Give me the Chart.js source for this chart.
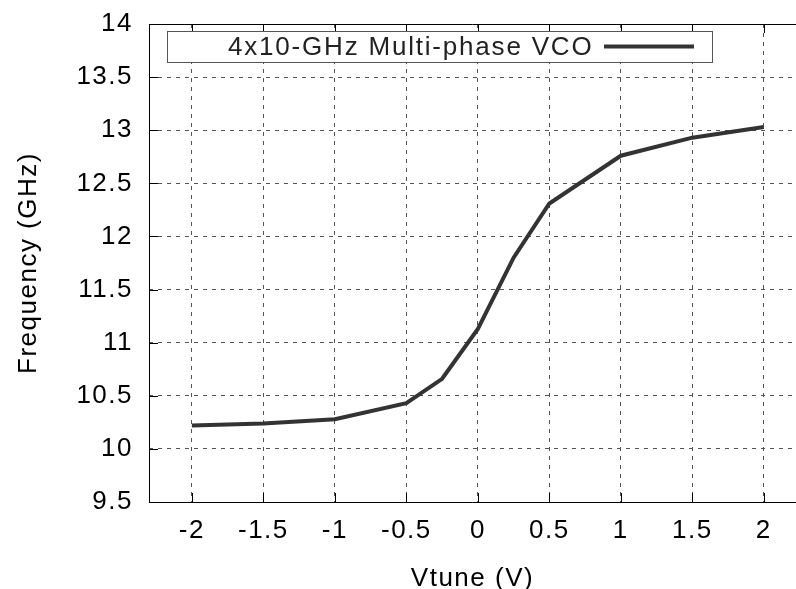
<!DOCTYPE html>
<html>
<head>
<meta charset="utf-8">
<script src="https://cdn.jsdelivr.net/npm/chart.js@4.4.0/dist/chart.umd.min.js"></script>
<style>
  html, body { margin: 0; padding: 0; background: #fff; overflow: hidden; }
  #wrap { width: 796px; height: 589px; }
</style>
</head>
<body>
<div id="wrap"><canvas id="vcoChart" width="796" height="589"></canvas></div>
<script>
// Data
const seriesLabel = "4x10-GHz Multi-phase VCO";
const vtune = [-2, -1.5, -1, -0.5, -0.25, 0, 0.25, 0.5, 1, 1.5, 2];
const freq = [10.22, 10.24, 10.28, 10.43, 10.66, 11.13, 11.8, 12.31, 12.76, 12.93, 13.03];
const xTicks = [-2, -1.5, -1, -0.5, 0, 0.5, 1, 1.5, 2];
const yTicks = [9.5, 10, 10.5, 11, 11.5, 12, 12.5, 13, 13.5, 14];

const FONT = "'Liberation Sans', Arial, sans-serif";
const gridColor = "#555";

// slightly wider text, like the reference
const spacingPlugin = {
    id: "spacing",
    beforeUpdate(chart) { chart.ctx.letterSpacing = "1.5px"; },
    beforeDraw(chart) { chart.ctx.letterSpacing = "1.5px"; }
};

// frame, inward ticks and boxed legend, gnuplot style
const framePlugin = {
    id: "frame",
    afterDraw(chart) {
        const { ctx, chartArea: a, scales } = chart;
        ctx.save();
        ctx.strokeStyle = "#000";
        ctx.lineWidth = 1;
        ctx.setLineDash([]);
        ctx.beginPath();
        ctx.moveTo(a.left + 0.5, a.top + 0.5);
        ctx.lineTo(a.right, a.top + 0.5);
        ctx.moveTo(a.left + 0.5, a.top);
        ctx.lineTo(a.left + 0.5, a.bottom + 0.5);
        ctx.lineTo(a.right, a.bottom + 0.5);
        xTicks.forEach(v => {
            const px = Math.round(scales.x.getPixelForValue(v)) + 0.5;
            ctx.moveTo(px, a.bottom); ctx.lineTo(px, a.bottom - 9);
            ctx.moveTo(px, a.top); ctx.lineTo(px, a.top + 9);
        });
        yTicks.forEach(v => {
            const py = Math.round(scales.y.getPixelForValue(v)) + 0.5;
            ctx.moveTo(a.left, py); ctx.lineTo(a.left + 9, py);
        });
        ctx.stroke();

        // legend box
        const bx = 167, by = 31, bw = 545, bh = 31;
        ctx.fillStyle = "#fff";
        ctx.fillRect(bx, by, bw, bh);
        ctx.strokeStyle = "#555";
        ctx.strokeRect(bx + 0.5, by + 0.5, bw, bh);
        ctx.fillStyle = "#222";
        ctx.font = "26px " + FONT;
        ctx.letterSpacing = "1.8px";
        ctx.textBaseline = "alphabetic";
        ctx.textAlign = "left";
        ctx.fillText(chart.data.datasets[0].label, 228, 55);
        ctx.strokeStyle = "#333";
        ctx.lineWidth = 4;
        ctx.beginPath();
        ctx.moveTo(604, by + bh / 2);
        ctx.lineTo(694, by + bh / 2);
        ctx.stroke();
        ctx.restore();
    }
};

const ctx = document.getElementById("vcoChart").getContext("2d");
const vcoChart = new Chart(ctx, {
    type: "line",
    data: {
        datasets: [{
            label: seriesLabel,
            data: vtune.map((x, i) => ({ x, y: freq[i] })),
            borderColor: "#333",
            borderWidth: 4,
            pointRadius: 0,
            tension: 0,
            fill: false
        }]
    },
    options: {
        responsive: false,
        animation: false,
        layout: { padding: { top: 24, right: 0, left: 0, bottom: 0 } },
        plugins: {
            legend: { display: false },
            tooltip: { enabled: false }
        },
        scales: {
            x: {
                type: "linear",
                min: -2.3,
                max: 2.225,
                afterBuildTicks: s => { s.ticks = xTicks.map(v => ({ value: v })); },
                afterFit: s => { s.height = 87; s.paddingLeft = 0; s.paddingRight = 0; },
                grid: { color: gridColor, lineWidth: 1, drawTicks: false },
                border: { display: false, dash: [4, 5] },
                ticks: { color: "#000", font: { family: FONT, size: 26 }, padding: 13, maxRotation: 0, callback: v => String(v) },
                title: { display: true, text: "Vtune (V)", color: "#000", font: { family: FONT, size: 26 }, padding: { top: 0, bottom: -5 } }
            },
            y: {
                type: "linear",
                min: 9.5,
                max: 14,
                afterBuildTicks: s => { s.ticks = yTicks.map(v => ({ value: v })); },
                afterFit: s => { s.width = 149; s.paddingTop = 0; s.paddingBottom = 0; },
                grid: { color: gridColor, lineWidth: 1, drawTicks: false },
                border: { display: false, dash: [4, 5] },
                ticks: { color: "#000", font: { family: FONT, size: 26 }, padding: 16, callback: v => String(v) },
                title: { display: true, text: "Frequency (GHz)", color: "#000", font: { family: FONT, size: 26 }, padding: { top: 13, bottom: 4 } }
            }
        }
    },
    plugins: [spacingPlugin, framePlugin]
});
</script>
</body>
</html>
